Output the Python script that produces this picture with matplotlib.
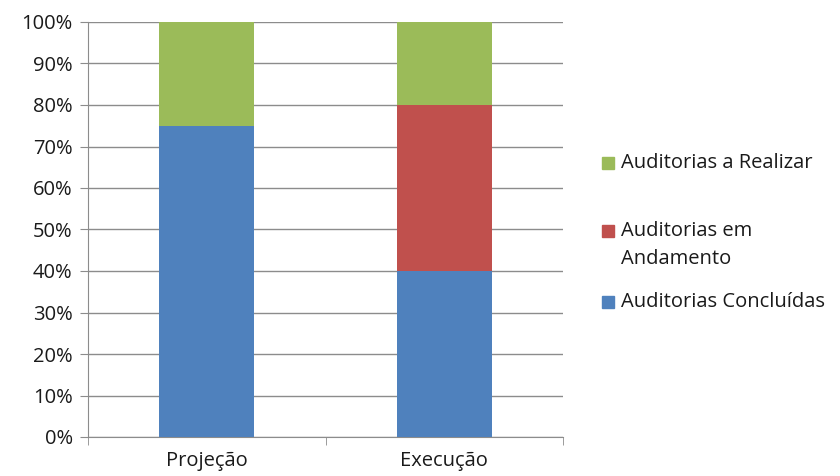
import matplotlib
matplotlib.use("Agg")
import matplotlib.pyplot as plt
from matplotlib.patches import Rectangle
import numpy as np

categories = ["Projeção", "Execução"]
concluidas = [75, 40]
andamento = [0, 40]
a_realizar = [25, 20]
series_labels = ["Auditorias Concluídas", "Auditorias em\nAndamento", "Auditorias a Realizar"]
colors = ["#4F81BD", "#C0504D", "#9BBB59"]
yticks = [0, 10, 20, 30, 40, 50, 60, 70, 80, 90, 100]

plt.rcParams['font.family'] = ['Open Sans', 'DejaVu Sans']
FS = 14.5
TXT = "#1a1a1a"

fig = plt.figure(figsize=(8.4, 4.76), dpi=100)
W, H = 840, 476
ax = fig.add_axes([88/W, 1-437/H, (563-88)/W, (437-22)/H])

x = np.arange(len(categories))
bottom = np.zeros(len(categories))
for vals, lab, col in zip([concluidas, andamento, a_realizar], series_labels, colors):
    ax.bar(x, vals, width=0.4, bottom=bottom, color=col, label=lab, zorder=3)
    bottom += np.array(vals)

ax.set_xlim(-0.5, 1.5)
ax.set_ylim(0, 100)
ax.set_yticks(yticks)
ax.set_yticklabels([f"{t}%" for t in yticks], fontsize=FS, color=TXT)
ax.yaxis.grid(True, color="#8c8c8c", linewidth=1, zorder=0)
ax.set_xticks(x)
ax.set_xticklabels(categories, fontsize=FS, color=TXT)
ax.tick_params(axis='x', length=0, pad=10)
ax.set_xticks([-0.5, 0.5, 1.5], minor=True)
ax.tick_params(axis='x', which='minor', length=6, color="#8c8c8c")
ax.tick_params(axis='y', length=6, color="#8c8c8c", pad=5)
for s in ["top", "right"]:
    ax.spines[s].set_visible(False)
for s in ["left", "bottom"]:
    ax.spines[s].set_color("#8c8c8c")

# legend (manual, Excel-style: marker aligned with first text line)
leg_y = [302, 231, 163]  # pixel centers of first line, for series in order
for lab, col, yc in zip(series_labels, colors, leg_y):
    fig.patches.append(Rectangle((602/W, 1-(yc+6)/H), 12/W, 12/H,
                                 transform=fig.transFigure, color=col, figure=fig))
    lines = lab.split("\n")
    for i, ln in enumerate(lines):
        fig.text(621/W, 1-(yc+28*i)/H, ln, fontsize=FS, color=TXT, va="center", ha="left")

fig.savefig("out.png", dpi=100)
